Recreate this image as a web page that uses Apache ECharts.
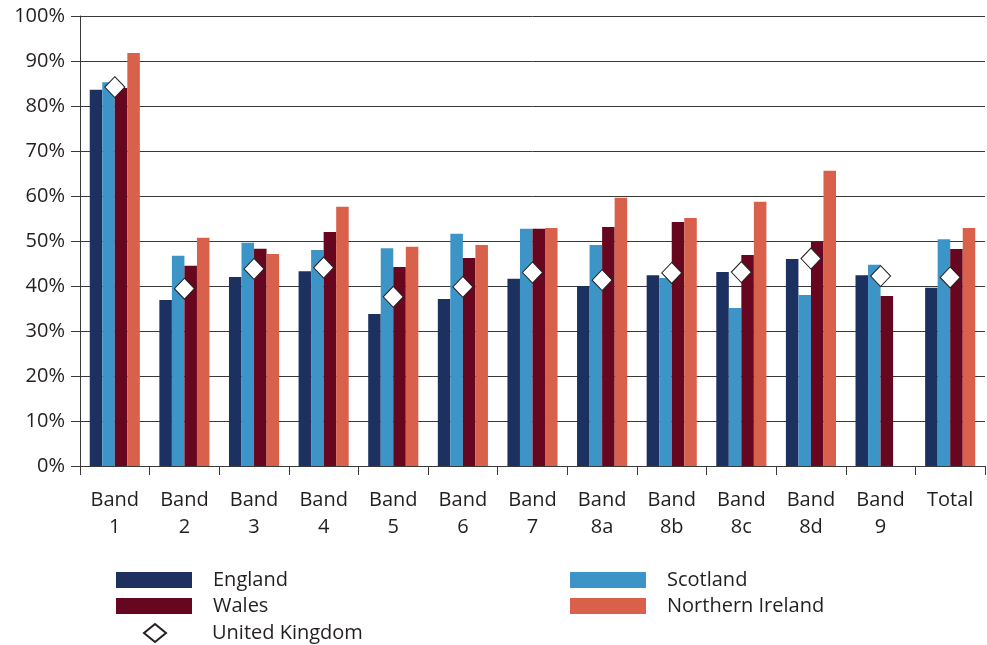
<!DOCTYPE html>
<html>
<head>
<meta charset="utf-8">
<script src="https://cdn.jsdelivr.net/npm/echarts@6/dist/echarts.min.js"></script>
<style>
html,body{margin:0;padding:0;background:#fff;}
#chart{width:987px;height:645px;}
</style>
</head>
<body>
<div id="chart"></div>
<script>
const categories = ['Band\n1','Band\n2','Band\n3','Band\n4','Band\n5','Band\n6','Band\n7','Band\n8a','Band\n8b','Band\n8c','Band\n8d','Band\n9','Total'];
const yTickLabels = ['0%','10%','20%','30%','40%','50%','60%','70%','80%','90%','100%'];
const england  = [83.6, 36.9, 42.0, 43.3, 33.8, 37.1, 41.6, 40.0, 42.4, 43.1, 46.0, 42.4, 39.6];
const scotland = [85.3, 46.7, 49.6, 48.0, 48.4, 51.6, 52.7, 49.1, 41.8, 35.1, 38.0, 44.7, 50.4];
const wales    = [84.0, 44.5, 48.3, 52.0, 44.2, 46.2, 52.7, 53.1, 54.2, 46.9, 49.9, 37.8, 48.2];
const nireland = [91.8, 50.7, 47.1, 57.6, 48.7, 49.1, 52.9, 59.6, 55.1, 58.7, 65.6, null, 52.9];
const uk       = [84.2, 39.4, 43.8, 44.1, 37.6, 39.8, 43.0, 41.3, 42.9, 43.1, 46.1, 42.2, 41.9];

const FONT = 'Open Sans';
const TXT = '#231f20';
const chart = echarts.init(document.getElementById('chart'), null, {renderer:'canvas'});
const legText = {fontFamily: FONT, fontSize: 20, color: TXT, lineHeight: 20, padding: [0,0,0,16]};
chart.setOption({
  animation: false,
  backgroundColor: '#ffffff',
  textStyle: {fontFamily: FONT, color: TXT},
  grid: {left: 80, right: 2, top: 16, bottom: 179, containLabel: false},
  legend: [
    {data: ['England','Wales'], orient: 'vertical', left: 111, top: 565, itemWidth: 76, itemHeight: 16, itemGap: 6, textStyle: legText, icon: 'rect'},
    {data: ['Scotland','Northern Ireland'], orient: 'vertical', left: 565, top: 565, itemWidth: 76, itemHeight: 16, itemGap: 6, textStyle: legText, icon: 'rect'},
    {data: ['United Kingdom'], orient: 'vertical', left: 138, top: 618, itemWidth: 22, itemHeight: 18, textStyle: Object.assign({}, legText, {padding:[0,0,0,41]})}
  ],
  xAxis: {
    type: 'category',
    data: categories,
    axisLine: {show: true, lineStyle: {color: '#3a3a3a', width: 1}},
    axisTick: {show: true, length: 9, alignWithLabel: false, lineStyle: {color: '#3a3a3a'}},
    axisLabel: {interval: 0, fontFamily: FONT, fontSize: 20, color: TXT, lineHeight: 27, margin: 21},
    splitLine: {show: false}
  },
  yAxis: {
    type: 'value',
    min: 0, max: 100, interval: 10,
    axisLine: {show: true, lineStyle: {color: '#3a3a3a', width: 1}},
    axisTick: {show: true, length: 9, lineStyle: {color: '#3a3a3a'}},
    axisLabel: {fontFamily: FONT, fontSize: 20, color: TXT, margin: 15,
      formatter: function(v){ return yTickLabels[Math.round(v/10)]; }},
    splitLine: {show: true, lineStyle: {color: '#3a3a3a', width: 1}}
  },
  series: [
    {name: 'England', type: 'bar', data: england, itemStyle: {color: '#1c3160'}, barGap: '0%', barCategoryGap: '28%'},
    {name: 'Scotland', type: 'bar', data: scotland, itemStyle: {color: '#3d94c7'}},
    {name: 'Wales', type: 'bar', data: wales, itemStyle: {color: '#66061f'}},
    {name: 'Northern Ireland', type: 'bar', data: nireland, itemStyle: {color: '#d9614b'}},
    {name: 'United Kingdom', type: 'scatter', data: uk, symbol: 'diamond', symbolSize: [20, 21], z: 5,
      itemStyle: {color: '#ffffff', borderColor: '#231f20', borderWidth: 1, opacity: 1}}
  ]
});
</script>
</body>
</html>
